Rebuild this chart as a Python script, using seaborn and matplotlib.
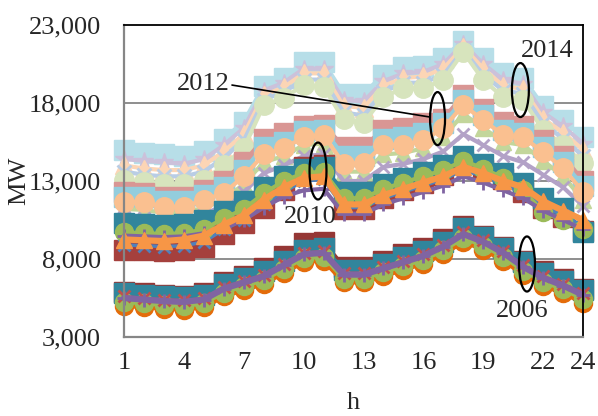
import matplotlib
matplotlib.use("Agg")
import matplotlib.pyplot as plt
from matplotlib.patches import Ellipse
import seaborn as sns

sns.set_style("white")
plt.rcParams['font.family'] = ['Liberation Serif', 'DejaVu Serif']

# hours
horas = list(range(1, 25))

# --- 2006 ---
roxo_06 = [5500, 5400, 5300, 5250, 5400, 6100, 6500, 6900, 7600, 8300, 8400, 7000,
           7000, 7400, 7800, 8200, 8800, 9600, 9100, 8400, 7500, 6800, 6300, 5700]
verm_06 = [5900, 5800, 5700, 5650, 5800, 6500, 6900, 7400, 8200, 9000, 9100, 7500,
           7500, 7900, 8300, 8700, 9300, 10100, 9500, 8800, 7900, 7200, 6700, 6100]
ciano_06 = [5800, 5700, 5600, 5550, 5700, 6400, 6800, 7200, 7900, 8600, 8700, 7300,
            7300, 7700, 8100, 8500, 9100, 10000, 9400, 8700, 7800, 7100, 6600, 6000]
verde_06 = [5250, 5150, 5050, 5000, 5150, 5850, 6250, 6650, 7350, 8050, 8150, 6750,
            6750, 7150, 7550, 7950, 8550, 9350, 8850, 8150, 7250, 6550, 6050, 5450]
laranja_06 = [5000, 4900, 4800, 4750, 4900, 5600, 6000, 6400, 7100, 7800, 7900, 6500,
              6500, 6900, 7300, 7700, 8300, 9100, 8600, 7900, 7000, 6300, 5800, 5200]
azul_06 = [5600, 5500, 5400, 5350, 5500, 6200, 6600, 7000, 7700, 8400, 8500, 7100,
           7100, 7500, 7900, 8300, 8900, 9700, 9200, 8500, 7600, 6900, 6400, 5800]

# --- 2010 ---
laranja_10 = [9250, 9200, 9150, 9250, 9500, 10200, 10800, 11800, 12600, 13200, 13300, 11500,
              11500, 12100, 12500, 12900, 13300, 13900, 13500, 13000, 12600, 11700, 11100, 10500]
verde_10 = [9700, 9650, 9600, 9650, 9900, 10600, 11200, 12200, 13000, 13500, 13600, 11900,
            11900, 12500, 12900, 13300, 13700, 14300, 13800, 13200, 12400, 11000, 10500, 9900]
ciano_10 = [10300, 10250, 10200, 10250, 10500, 11100, 11700, 12600, 13300, 13800, 13900, 12300,
            12300, 12800, 13200, 13600, 14000, 14600, 14100, 13500, 12900, 11900, 11300, 9700]
verm_10 = [8600, 8550, 8500, 8550, 8800, 9600, 10300, 11300, 12400, 13900, 14000, 11200,
           11200, 11900, 12400, 12900, 13400, 14200, 13700, 13100, 12300, 11300, 10700, 9800]
roxo_10 = [9500, 9450, 9400, 9450, 9650, 10000, 10500, 11300, 12000, 12400, 12500, 10900,
           10900, 11500, 11900, 12300, 12700, 13300, 12900, 12400, 11900, 11100, 10500, 9900]
azul_10 = [8900, 8850, 8800, 8850, 9100, 9900, 10500, 11500, 12300, 13000, 13100, 11300,
           11300, 11900, 12300, 12700, 13100, 13700, 13300, 12800, 12200, 11400, 10800, 10100]

# --- 2012 ---
pessego_12 = [11650, 11650, 11350, 11350, 11780, 12230, 13300, 14700, 15100, 15800, 15950, 14100,
              14150, 15300, 15300, 15600, 16400, 17870, 16900, 15950, 15800, 14860, 13830, 12300]
rosa_12 = [12300, 12250, 12000, 12000, 12400, 13000, 14200, 15700, 16100, 16500, 16600, 15200,
           15200, 16300, 16400, 16700, 17000, 18500, 17600, 16800, 16500, 15600, 14600, 13000]
lilas_12 = [10700, 10650, 10550, 10550, 10900, 11400, 12300, 13500, 14000, 14600, 14700, 13000,
            13000, 13900, 14100, 14400, 14900, 16000, 15300, 14600, 14200, 13400, 12600, 11400]
ciano_12 = [12000, 11950, 11700, 11700, 12100, 12600, 13700, 15200, 15500, 16200, 16300, 14600,
            14600, 15700, 15800, 16100, 16700, 18200, 17200, 16300, 16100, 15200, 14200, 12700]
verde_12 = [11200, 11150, 10950, 10950, 11300, 11800, 12800, 14200, 14600, 15300, 15400, 13600,
            13600, 14700, 14800, 15100, 15800, 17300, 16400, 15500, 15300, 14300, 13300, 11800]

# --- 2014 ---
verde_14 = [13060, 12940, 12800, 12800, 13060, 14000, 15100, 17870, 18320, 19150, 19030, 16950,
            16720, 18380, 18960, 18960, 19470, 21270, 19470, 18380, 18190, 16270, 15300, 14150]
ciano_14 = [15000, 14800, 14700, 14600, 14900, 15700, 16800, 19100, 19600, 20600, 20600, 18600,
            18600, 19800, 20300, 20400, 20900, 22000, 20900, 19900, 19600, 17800, 16900, 15800]
pessego_14 = [14000, 13800, 13700, 13700, 14000, 14900, 16000, 18500, 19000, 19900, 19900, 17800,
              17700, 19100, 19600, 19700, 20200, 21600, 20200, 19100, 18900, 17000, 16100, 15000]
lilas_14 = [14400, 14300, 14200, 14100, 14400, 15300, 16400, 18800, 19300, 20200, 20200, 18200,
            18100, 19400, 19900, 20000, 20500, 21800, 20500, 19500, 19200, 17400, 16500, 15400]
azul_14 = [13600, 13400, 13300, 13300, 13600, 14500, 15600, 18200, 18700, 19500, 19500, 17400,
           17200, 18700, 19300, 19300, 19800, 21400, 19800, 18800, 18600, 16700, 15700, 14600]

# series (dados, cor, marcador, tamanho, espessura) - ordem de desenho
series = [
    (ciano_14, '#B7DEE8', 's', 15, 3.0),
    (lilas_14, '#CCC1DA', '*', 13, 3.0),
    (pessego_14, '#FCD5B5', '^', 13, 3.0),
    (azul_14, '#B9CDE5', 'x', 10, 3.0),
    (verde_14, '#D7E4BD', 'o', 14, 3.0),
    (rosa_12, '#D99694', 's', 15, 3.0),
    (ciano_12, '#93CDDD', 's', 14, 3.0),
    (verde_12, '#C3D69B', '^', 12, 3.0),
    (lilas_12, '#B3A2C7', 'x', 9, 3.0),
    (pessego_12, '#FAC090', 'o', 14, 3.0),
    (verm_10, '#A5403D', 's', 15, 3.0),
    (ciano_10, '#31859C', 's', 14, 3.0),
    (azul_10, '#4F81BD', 'x', 9, 2.5),
    (verde_10, '#9BBB59', 'o', 13, 3.0),
    (roxo_10, '#8064A2', '+', 10, 3.0),
    (laranja_10, '#F79646', '^', 12, 4.5),
    (verm_06, '#953735', 's', 15, 3.0),
    (ciano_06, '#31859C', 's', 14, 3.0),
    (laranja_06, '#E46C0A', 'o', 13, 3.0),
    (verde_06, '#9BBB59', 'o', 13, 3.0),
    (azul_06, '#C0504D', 'x', 9, 2.0),
    (roxo_06, '#8064A2', '+', 10, 4.5),
]

fig = plt.figure(figsize=(5.98, 4.16), dpi=100)
ax = fig.add_axes([0.2074, 0.1899, 0.7676, 0.7500])

ax.set_axisbelow(True)
for y in [8000, 13000, 18000]:
    ax.axhline(y, color='#868686', lw=1.3, zorder=0)

for dados, cor, marc, tam, lw in series:
    mew = 2.0 if marc in ('x', '+') else 1.0
    sns.lineplot(x=horas, y=dados, ax=ax, color=cor, marker=marc, markersize=tam,
                 markeredgecolor=cor, markeredgewidth=mew, linewidth=lw,
                 clip_on=False, legend=False)

ax.set_xlim(1, 24)
ax.set_ylim(3000, 23000)
ax.set_yticks([3000, 8000, 13000, 18000, 23000])
ax.set_yticklabels(['3,000', '8,000', '13,000', '18,000', '23,000'])
ax.set_xticks(horas)
ax.set_xticklabels([str(h) if h in (1, 4, 7, 10, 13, 16, 19, 22, 24) else '' for h in horas])
ax.tick_params(axis='y', direction='out', length=4.5, width=1.3, color='#868686',
               labelsize=19, pad=12)
ax.tick_params(axis='x', direction='out', length=5.5, width=1.3, color='#868686',
               labelsize=19, pad=5)

for lado in ['left', 'bottom']:
    ax.spines[lado].set_color('#868686')
    ax.spines[lado].set_linewidth(1.6)
for lado in ['top', 'right']:
    ax.spines[lado].set_color('black')
    ax.spines[lado].set_linewidth(1.3)

ax.set_xlabel('h', fontsize=19)
ax.set_ylabel('MW', fontsize=19)
ax.xaxis.set_label_coords(0.5, -0.175)
ax.yaxis.set_label_coords(-0.205, 0.5)

# elipses e rótulos dos anos
elipses = [(16.71, 17000, 0.75, 3400), (20.86, 18830, 0.85, 3460),
           (10.72, 13640, 0.85, 3650), (21.19, 7680, 0.8, 3530)]
for cx, cy, w, h in elipses:
    ax.add_patch(Ellipse((cx, cy), w, h, fill=False, edgecolor='black', lw=1.6,
                         zorder=50, clip_on=False))

ax.text(4.96, 19220, '2012', fontsize=19, ha='center', va='center', zorder=51)
ax.text(22.19, 21330, '2014', fontsize=19, ha='center', va='center', zorder=51)
ax.text(10.32, 10700, '2010', fontsize=19, ha='center', va='center', zorder=51)
ax.text(20.94, 4670, '2006', fontsize=19, ha='center', va='center', zorder=51)
ax.plot([6.41, 16.33], [19150, 17100], color='black', lw=1.2, zorder=50)

fig.savefig('out.png', dpi=100)
